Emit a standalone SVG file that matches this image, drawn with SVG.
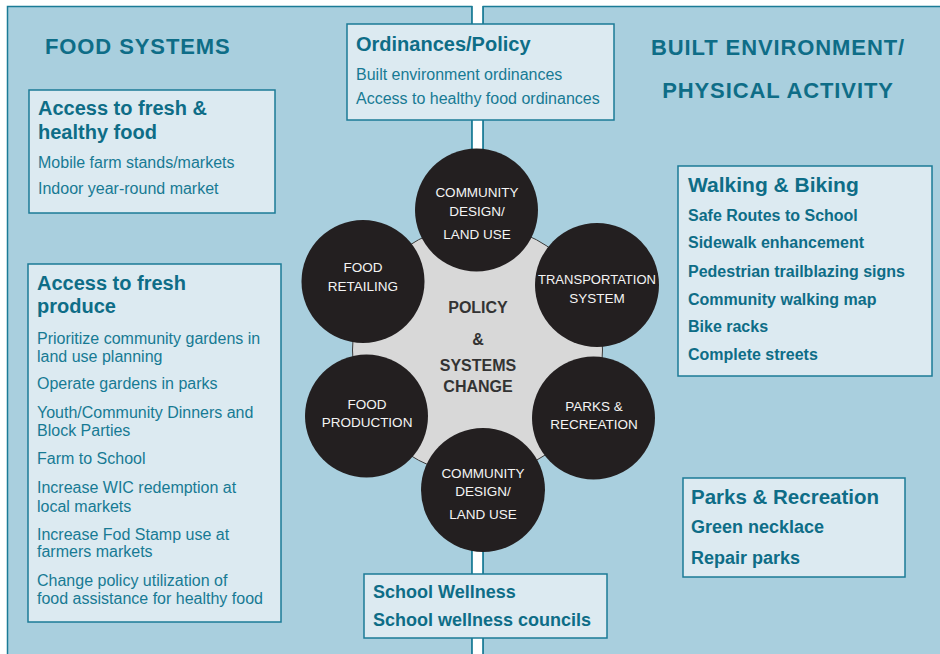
<svg xmlns="http://www.w3.org/2000/svg" width="940" height="654" viewBox="0 0 940 654">
<style>
.panel{fill:#a9cfde;stroke:#1b7b96;stroke-width:1.5}
.box{fill:#dceaf1;stroke:#1b7b96;stroke-width:1.5}
.head{font-family:"Liberation Sans",Arial,sans-serif;font-weight:bold;font-size:22px;fill:#0e6d87;letter-spacing:0.9px}
.title{font-family:"Liberation Sans",Arial,sans-serif;font-weight:bold;font-size:20px;fill:#0e6d87}
.item{font-family:"Liberation Sans",Arial,sans-serif;font-size:16px;fill:#177a94}
.bitem{font-family:"Liberation Sans",Arial,sans-serif;font-weight:bold;font-size:16px;fill:#0e6d87}
.bitem18{font-family:"Liberation Sans",Arial,sans-serif;font-weight:bold;font-size:18px;fill:#0e6d87}
.dot{fill:#231f20}
.ctext{font-family:"Liberation Sans",Arial,sans-serif;font-size:13.5px;fill:#f4f4f4;text-anchor:middle}
.hubtext{font-family:"Liberation Sans",Arial,sans-serif;font-weight:bold;font-size:16px;fill:#333333;text-anchor:middle}
</style>
<rect x="0" y="0" width="940" height="654" fill="#ffffff"/>
<g id="panels">
<rect class="panel" x="7.5" y="6.5" width="464.5" height="660"/>
<rect class="panel" x="483" y="6.5" width="470" height="660"/>
<text class="head" x="45" y="54">FOOD SYSTEMS</text>
<text class="head" x="778" y="55" text-anchor="middle">BUILT ENVIRONMENT/</text>
<text class="head" x="778" y="98" text-anchor="middle">PHYSICAL ACTIVITY</text>
</g>
<g id="connectors">
<rect x="472.5" y="0" width="10" height="654" fill="#ffffff"/>
<line x1="472" y1="6" x2="472" y2="654" stroke="#1b7b96" stroke-width="1.5"/>
<line x1="483" y1="6" x2="483" y2="654" stroke="#1b7b96" stroke-width="1.5"/>
</g>
<g id="hub">
<circle cx="477.5" cy="350" r="125" fill="#d8d8d8" stroke="#3a3a3a" stroke-width="1"/>
<text class="hubtext" x="478" y="313">POLICY</text>
<text class="hubtext" x="478" y="345">&amp;</text>
<text class="hubtext" x="478" y="371">SYSTEMS</text>
<text class="hubtext" x="478" y="392">CHANGE</text>
</g>
<g id="node-community-top">
<circle class="dot" cx="476.5" cy="210" r="61.5"/>
<text class="ctext" x="477" y="197">COMMUNITY</text>
<text class="ctext" x="477" y="216">DESIGN/</text>
<text class="ctext" x="477" y="239">LAND USE</text>
</g>
<g id="node-food-retailing">
<circle class="dot" cx="363" cy="281.5" r="61.5"/>
<text class="ctext" x="363" y="272">FOOD</text>
<text class="ctext" x="363" y="291">RETAILING</text>
</g>
<g id="node-transportation">
<circle class="dot" cx="597" cy="285" r="62"/>
<text class="ctext" x="597" y="284" textLength="118" lengthAdjust="spacingAndGlyphs">TRANSPORTATION</text>
<text class="ctext" x="597" y="303">SYSTEM</text>
</g>
<g id="node-food-production">
<circle class="dot" cx="366.5" cy="416" r="61.5"/>
<text class="ctext" x="367" y="409">FOOD</text>
<text class="ctext" x="367" y="427">PRODUCTION</text>
</g>
<g id="node-parks">
<circle class="dot" cx="593.5" cy="418" r="61.5"/>
<text class="ctext" x="594" y="411">PARKS &amp;</text>
<text class="ctext" x="594" y="429">RECREATION</text>
</g>
<g id="node-community-bottom">
<circle class="dot" cx="483" cy="490" r="62"/>
<text class="ctext" x="483" y="478">COMMUNITY</text>
<text class="ctext" x="483" y="496">DESIGN/</text>
<text class="ctext" x="483" y="519">LAND USE</text>
</g>
<g id="box-ordinances">
<rect class="box" x="347" y="24" width="267" height="96"/>
<text class="title" x="356" y="51">Ordinances/Policy</text>
<text class="item" x="356" y="80">Built environment ordinances</text>
<text class="item" x="356" y="104">Access to healthy food ordinances</text>
</g>
<g id="box-healthy-food">
<rect class="box" x="29" y="90" width="246" height="123"/>
<text class="title" x="38" y="115">Access to fresh &amp;</text>
<text class="title" x="38" y="139">healthy food</text>
<text class="item" x="38" y="168">Mobile farm stands/markets</text>
<text class="item" x="38" y="194">Indoor year-round market</text>
</g>
<g id="box-fresh-produce">
<rect class="box" x="28" y="264" width="253" height="358"/>
<text class="title" x="37" y="290">Access to fresh</text>
<text class="title" x="37" y="313">produce</text>
<text class="item" x="37" y="344">Prioritize community gardens in</text>
<text class="item" x="37" y="362">land use planning</text>
<text class="item" x="37" y="389">Operate gardens in parks</text>
<text class="item" x="37" y="418">Youth/Community Dinners and</text>
<text class="item" x="37" y="436">Block Parties</text>
<text class="item" x="37" y="464">Farm to School</text>
<text class="item" x="37" y="493">Increase WIC redemption at</text>
<text class="item" x="37" y="512">local markets</text>
<text class="item" x="37" y="540">Increase Fod Stamp use at</text>
<text class="item" x="37" y="557">farmers markets</text>
<text class="item" x="37" y="586">Change policy utilization of</text>
<text class="item" x="37" y="604">food assistance for healthy food</text>
</g>
<g id="box-walking">
<rect class="box" x="678" y="166" width="254" height="210"/>
<text class="title" x="688" y="192" style="font-size:21px">Walking &amp; Biking</text>
<text class="bitem" x="688" y="221">Safe Routes to School</text>
<text class="bitem" x="688" y="248">Sidewalk enhancement</text>
<text class="bitem" x="688" y="277">Pedestrian trailblazing signs</text>
<text class="bitem" x="688" y="305">Community walking map</text>
<text class="bitem" x="688" y="332">Bike racks</text>
<text class="bitem" x="688" y="360">Complete streets</text>
</g>
<g id="box-parks">
<rect class="box" x="683" y="478" width="222" height="99"/>
<text class="title" x="691" y="504" style="font-size:20.5px">Parks &amp; Recreation</text>
<text class="bitem18" x="691" y="533">Green necklace</text>
<text class="bitem18" x="691" y="564">Repair parks</text>
</g>
<g id="box-school">
<rect class="box" x="364" y="574" width="243" height="64"/>
<text class="bitem18" x="373" y="598">School Wellness</text>
<text class="bitem18" x="373" y="626">School wellness councils</text>
</g>
</svg>
